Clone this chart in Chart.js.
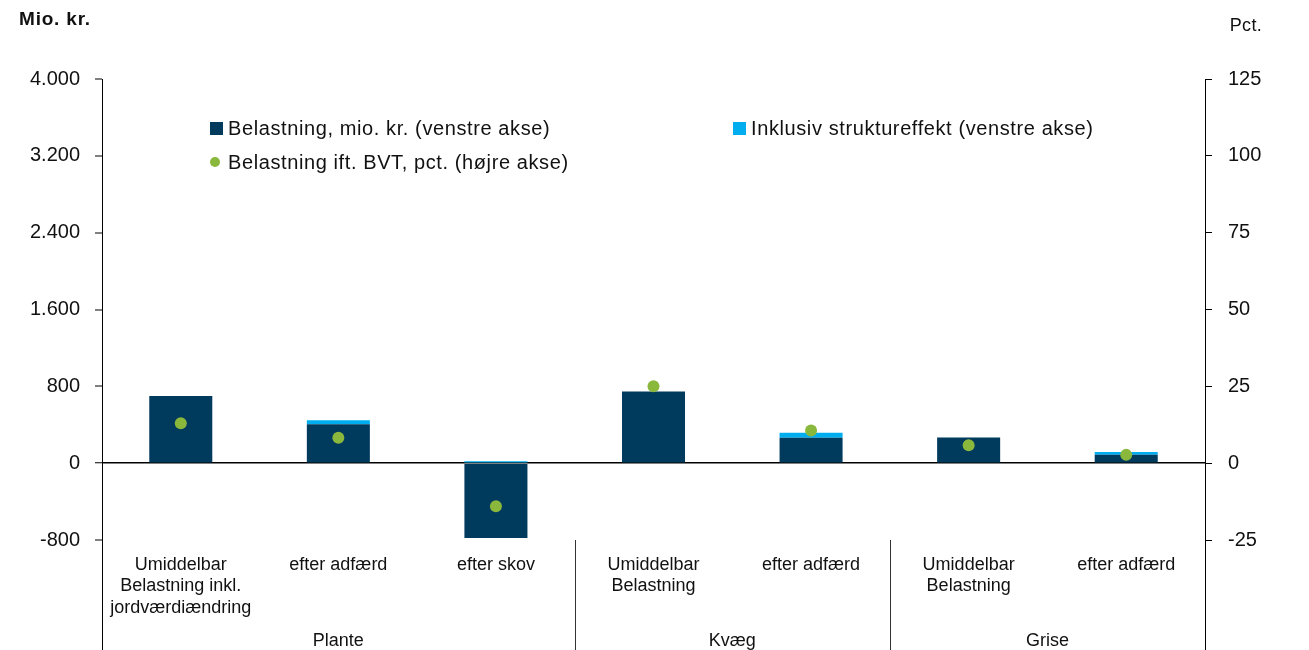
<!DOCTYPE html>
<html>
<head>
<meta charset="utf-8">
<script src="https://cdn.jsdelivr.net/npm/chart.js@4"></script>
<style>
  html, body { margin: 0; padding: 0; background: #fff; }
  #wrap { width: 1309px; height: 650px; position: relative; }
</style>
</head>
<body>
<div id="wrap"><canvas id="graf"></canvas></div>
<script>
// Data
const kategorier = [
    ["Umiddelbar", "Belastning inkl.", "jordværdiændring"],
    "efter adfærd",
    "efter skov",
    ["Umiddelbar", "Belastning"],
    "efter adfærd",
    ["Umiddelbar", "Belastning"],
    "efter adfærd"
];
const grupper = ["Plante", "Kvæg", "Grise"];
const gruppeStart = [0, 3, 5];   // første kategori i hver gruppe
const belastning = [700, 405, -780, 745, 265, 268, 87];
const struktureffekt = [0, 42, 20, 0, 52, 0, 28];
const bvtPct = [13, 8.3, -14, 25, 10.6, 5.8, 2.7];
const venstreTicks = [-800, 0, 800, 1600, 2400, 3200, 4000];
const hoejreTicks = [-25, 0, 25, 50, 75, 100, 125];

const MORK = "#003a5d";
const LYS = "#00aeef";
const GRON = "#8ab83c";
const FONT = "'Liberation Sans', Arial, sans-serif";

function tal(v) {
    const s = Math.abs(v).toString().replace(/\B(?=(\d{3})+(?!\d))/g, ".");
    return (v < 0 ? "-" : "") + s;
}

// Grupper, separatorer, legende og akseoverskrifter
const ekstra = {
    id: "ekstra",
    afterDraw(chart) {
        const ctx = chart.ctx;
        const a = chart.chartArea;
        const x = chart.scales.x;
        ctx.save();
        ctx.strokeStyle = "#000";
        ctx.lineWidth = 1;
        // akser forlænget ned
        ctx.beginPath();
        ctx.moveTo(a.left + 0.5, a.bottom); ctx.lineTo(a.left + 0.5, 650);
        ctx.moveTo(a.right + 0.5, a.bottom); ctx.lineTo(a.right + 0.5, 650);
        ctx.stroke();
        // separatorer mellem grupper
        ctx.strokeStyle = "#333";
        for (let g = 1; g < gruppeStart.length; g++) {
            const i = gruppeStart[g];
            const px = (x.getPixelForValue(i - 1) + x.getPixelForValue(i)) / 2;
            ctx.beginPath();
            ctx.moveTo(Math.round(px) + 0.5, a.bottom);
            ctx.lineTo(Math.round(px) + 0.5, 650);
            ctx.stroke();
        }
        // gruppe-navne
        ctx.fillStyle = "#111";
        ctx.font = "18px " + FONT;
        ctx.textAlign = "center";
        ctx.textBaseline = "middle";
        grupper.forEach((navn, g) => {
            const fra = gruppeStart[g];
            const til = g + 1 < gruppeStart.length ? gruppeStart[g + 1] - 1 : kategorier.length - 1;
            const px = (x.getPixelForValue(fra) + x.getPixelForValue(til)) / 2;
            ctx.fillText(navn, px, 641);
        });
        // akseoverskrifter
        ctx.textAlign = "left";
        ctx.letterSpacing = "0.8px";
        ctx.font = "bold 19px " + FONT;
        ctx.fillText("Mio. kr.", 19, 20);
        ctx.letterSpacing = "0.3px";
        ctx.font = "18px " + FONT;
        ctx.textAlign = "right";
        ctx.fillText("Pct.", 1262, 26);
        // legende
        const ds = chart.data.datasets;
        const pos = [[210, 128], [733, 128], [210, 162]];
        ctx.font = "20px " + FONT;
        ctx.textAlign = "left";
        ds.forEach((d, i) => {
            const [lx, ly] = pos[i];
            ctx.fillStyle = d.type === "line" ? d.pointBackgroundColor : d.backgroundColor;
            if (d.type === "line") {
                ctx.beginPath();
                ctx.arc(lx + 5, ly, 5, 0, Math.PI * 2);
                ctx.fill();
            } else {
                ctx.fillRect(lx, ly - 6, 13, 13);
            }
            ctx.fillStyle = "#111";
            ctx.letterSpacing = "0.6px";
            ctx.fillText(d.label, lx + 18, ly + 1);
            ctx.letterSpacing = "0px";
        });
        ctx.restore();
    }
};

new Chart(document.getElementById("graf"), {
    data: {
        labels: kategorier,
        datasets: [{
            type: "bar",
            label: "Belastning, mio. kr. (venstre akse)",
            data: belastning,
            backgroundColor: MORK,
            yAxisID: "y",
            stack: "a",
            barPercentage: 0.4,
            categoryPercentage: 1,
            order: 2
        }, {
            type: "bar",
            label: "Inklusiv struktureffekt (venstre akse)",
            data: struktureffekt,
            backgroundColor: LYS,
            yAxisID: "y",
            stack: "a",
            barPercentage: 0.4,
            categoryPercentage: 1,
            order: 2
        }, {
            type: "line",
            label: "Belastning ift. BVT, pct. (højre akse)",
            data: bvtPct,
            yAxisID: "y1",
            showLine: false,
            pointRadius: 6,
            pointHoverRadius: 6,
            pointBackgroundColor: GRON,
            pointBorderWidth: 0,
            borderColor: GRON,
            order: 1
        }]
    },
    options: {
        responsive: true,
        maintainAspectRatio: false,
        animation: false,
        layout: { padding: { top: 79, left: 0, right: 0, bottom: 0 } },
        plugins: { legend: { display: false }, tooltip: { enabled: false } },
        scales: {
            x: {
                stacked: true,
                grid: { display: false, drawTicks: false },
                border: { display: false },
                ticks: {
                    color: "#111",
                    font: { family: FONT, size: 18, lineHeight: 1.2 },
                    padding: 14,
                    maxRotation: 0,
                    autoSkip: false
                },
                afterFit(s) { s.height = 110; }
            },
            y: {
                stacked: true,
                position: "left",
                min: -800,
                max: 4000,
                afterBuildTicks(s) { s.ticks = venstreTicks.map(v => ({ value: v })); },
                grid: {
                    color: c => c.tick && c.tick.value === 0 ? "#000" : "rgba(0,0,0,0)",
                    lineWidth: c => c.tick && c.tick.value === 0 ? 1.5 : 0,
                    tickColor: "#000",
                    tickLength: 7,
                    tickWidth: 1
                },
                border: { display: true, color: "#000", width: 1 },
                ticks: {
                    color: "#111",
                    font: { family: FONT, size: 20 },
                    padding: 15,
                    callback: v => tal(v)
                },
                afterFit(s) { s.width = 102; }
            },
            y1: {
                position: "right",
                min: -25,
                max: 125,
                afterBuildTicks(s) { s.ticks = hoejreTicks.map(v => ({ value: v })); },
                grid: {
                    drawOnChartArea: false,
                    tickColor: "#000",
                    tickLength: 7,
                    tickWidth: 1
                },
                border: { display: true, color: "#000", width: 1 },
                ticks: {
                    color: "#111",
                    font: { family: FONT, size: 20 },
                    padding: 16,
                    callback: v => tal(v)
                },
                afterFit(s) { s.width = 104; }
            }
        }
    },
    plugins: [ekstra]
});
</script>
</body>
</html>
